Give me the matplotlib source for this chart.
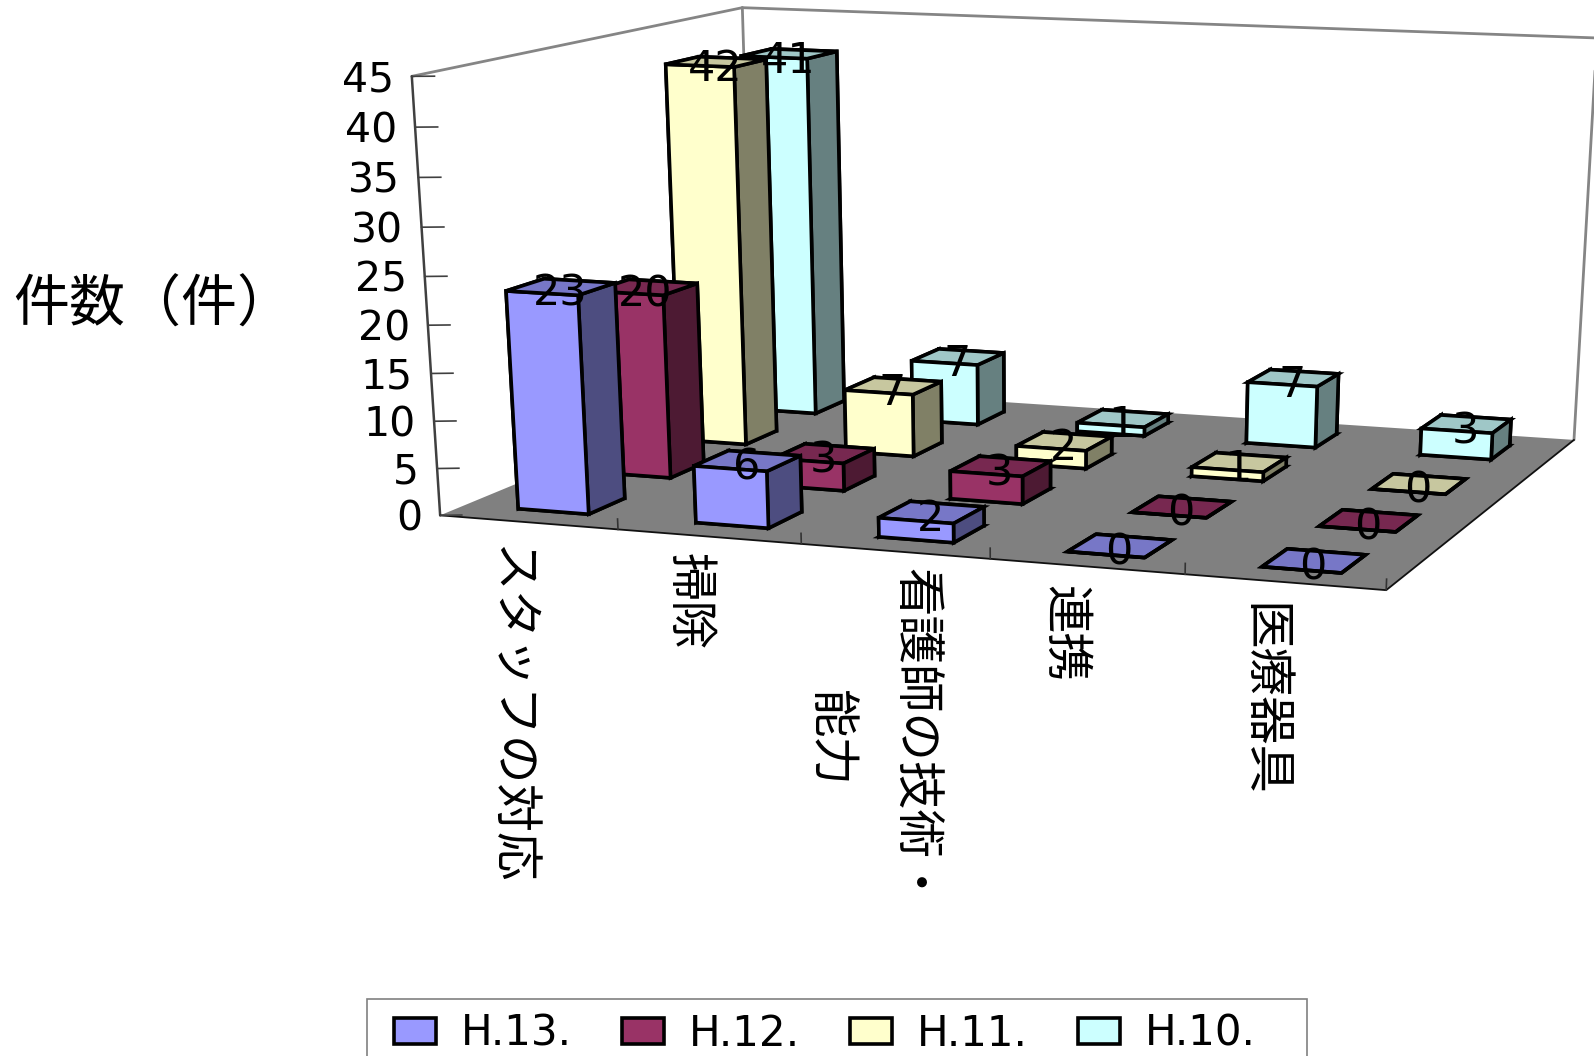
import numpy as np
import matplotlib
matplotlib.use('Agg')
import matplotlib.pyplot as plt
from matplotlib.patches import Patch, Rectangle
from mpl_toolkits.mplot3d import Axes3D
from mpl_toolkits.mplot3d.art3d import Poly3DCollection

# ---- data ----
series_names = ['H.13.', 'H.12.', 'H.11.', 'H.10.']
h13 = [23, 6, 2, 0, 0]
h12 = [20, 3, 3, 0, 0]
h11 = [42, 7, 2, 1, 0]
h10 = [41, 7, 1, 7, 3]
series_values = [h13, h12, h11, h10]
categories = ['スタッフの対応', '掃除', '看護師の技術・\n能力', '連携', '医療器具']
z_ticks = [0, 5, 10, 15, 20, 25, 30, 35, 40, 45]
colors = ['#9999FF', '#993366', '#FFFFCC', '#CCFFFF']

W, H = 1594, 1056
CJK = ['Noto Sans CJK JP', 'DejaVu Sans']
XMAX, YMAX, ZMAX = len(categories), len(series_names), z_ticks[-1]

# camera calibration: frame corners (world) and where they fall in the picture (pixels)
CAL_WORLD = np.array([[0, 0, 0], [XMAX, 0, 0], [XMAX, YMAX, 0], [0, YMAX, 0],
                      [0, 0, ZMAX], [0, YMAX, ZMAX], [XMAX, YMAX, ZMAX],
                      [0, 0, 20]], float)
CAL_PIX = np.array([[440, 516], [1386, 590], [1574, 440], [754, 385],
                    [412, 76], [742, 8], [1597, 38],
                    [428, 325]], float)


def fit_camera(world, pix):
    rows = []
    for (X, Y, Z), (u, v) in zip(world, pix):
        p = [X, Y, Z, 1]
        v_disp = H - v
        rows.append(p + [0, 0, 0, 0] + [-u * c for c in p])
        rows.append([0, 0, 0, 0] + p + [-v_disp * c for c in p])
    A = np.array(rows)
    S = np.diag(np.tile([1 / XMAX, 1 / YMAX, 1 / ZMAX, 1], 3))
    _, _, vt = np.linalg.svd(A @ np.linalg.inv(S))
    P = (np.linalg.inv(S) @ vt[-1]).reshape(3, 4)
    if P[2, 3] < 0:
        P = -P
    return P / P[2, 3]


P_DISP = fit_camera(CAL_WORLD, CAL_PIX)


def to_fig(x, y, zv, dx=0, dy=0):
    """World position -> figure fraction, through the fitted camera (offsets in px, y down)."""
    q = P_DISP @ np.array([x, y, zv, 1.0])
    return (q[0] / q[2] + dx) / W, (q[1] / q[2] - dy) / H


fig = plt.figure(figsize=(W / 100, H / 100), dpi=100, facecolor='white')
side = W / H
ax = fig.add_axes([0, -(side - 1) / 2, 1, side], projection='3d')
ax.set_axis_off()
ax.computed_zorder = False
ax.set_proj_type('ortho')   # switches off mplot3d's near-plane clipping


def get_proj():
    ax.apply_aspect()
    aff = ax.transData.inverted().get_matrix()
    M2 = aff @ P_DISP
    w = M2[2]
    return np.vstack([M2[0], M2[1], w - np.array([0, 0, 0, 1.0]), w])


ax.get_proj = get_proj
z = 1

# walls and floor
floor = [[(0, 0, 0), (XMAX, 0, 0), (XMAX, YMAX, 0), (0, YMAX, 0)]]
ax.add_collection3d(Poly3DCollection(floor, facecolors='#808080', edgecolors='none', zorder=z)); z += 1
GRAY = '#858585'
for a, b, c, lw in [((0, 0, ZMAX), (0, YMAX, ZMAX), GRAY, 2.0),
                    ((0, YMAX, ZMAX), (XMAX, YMAX, ZMAX), GRAY, 2.0),
                    ((0, YMAX, 0), (0, YMAX, ZMAX), GRAY, 2.0),
                    ((XMAX, YMAX, 0), (XMAX, YMAX, ZMAX), GRAY, 2.0),
                    ((0, 0, 0), (0, 0, ZMAX), '#404040', 1.8),
                    ((0, 0, 0), (XMAX, 0, 0), '#111111', 1.3),
                    ((XMAX, 0, 0), (XMAX, YMAX, 0), '#111111', 1.3)]:
    ax.plot(*zip(a, b), color=c, lw=lw, zorder=z, solid_capstyle='round'); z += 1

# ticks
for t in z_ticks:
    ax.plot([0, 0.10], [0, 0.045], [t, t], color='#404040', lw=1.2, zorder=z); z += 1
    fx, fy = to_fig(0, 0, t, dx=-18, dy=4)
    fig.text(fx, fy, str(t), ha='right', va='center', fontsize=41 * 0.72,
             family='DejaVu Sans', color='black')
for i in range(1, XMAX + 1):
    ax.plot([i, i], [0, 0], [0, 1.1], color='#333333', lw=1.2, zorder=z); z += 1

BAR_W, BAR_D = 0.40, 0.43


def shade(c, f):
    r = np.array(matplotlib.colors.to_rgb(c)) * f
    return tuple(r)


# bars: back series first, left to right
for s in range(len(series_names) - 1, -1, -1):
    base = colors[s]
    # bottom, top, front, back, left, right
    face = [shade(base, .5), shade(base, .78), shade(base, 1), shade(base, .5),
            shade(base, .5), shade(base, .5)]
    for c, v in enumerate(series_values[s]):
        col = ax.bar3d(c + .5 - BAR_W / 2, s + .5 - BAR_D / 2, 0, BAR_W, BAR_D, v,
                       color=face, shade=False, edgecolor='black', linewidth=2.6,
                       zorder=z)
        col.set_joinstyle('miter')
        z += 1

# data labels
for s, vals in enumerate(series_values):
    for c, v in enumerate(vals):
        fx, fy = to_fig(c + .5, s + .5, v, dx=-1, dy=7)
        fig.text(fx, fy, str(v), ha='center', va='center',
                 fontsize=43 * 0.72, family='DejaVu Sans', color='black')

# category labels (pixel placement of the slanted axis text)
cat_x = [510, 688, 872, 1064, 1263]
cat_top = [545, 553, 568, 585, 603]
for name, x, y in zip(categories, cat_x, cat_top):
    fig.text(x / W, 1 - y / H, name, rotation=-90, rotation_mode='default', ha='center', va='top',
             ma='center', linespacing=1.9, fontsize=48.5 * 0.72, family=CJK, color='black')

# axis title
fig.text(13 / W, 1 - 306 / H, '件数（件）', ha='left', va='center',
         fontsize=56 * 0.72, family=CJK, color='black')

# legend
fig.add_artist(Rectangle((367 / W, -0.02), (1307 - 367) / W, (1 - 999 / H) + 0.02,
                         transform=fig.transFigure, fill=False, edgecolor='#808080', lw=1.2))
handles = [Patch(facecolor=c, edgecolor='black', linewidth=2.6) for c in colors]
fig.legend(handles, series_names, loc='center left', bbox_to_anchor=(394 / W, 1 - 1034 / H),
           ncol=4, frameon=False, prop={'family': 'DejaVu Sans', 'size': 42 * 0.72},
           borderpad=0, borderaxespad=0, handlelength=42 / 42, handleheight=24 / 42,
           handletextpad=25 / 42, columnspacing=50 / 42)

fig.savefig('out.png', dpi=100)
